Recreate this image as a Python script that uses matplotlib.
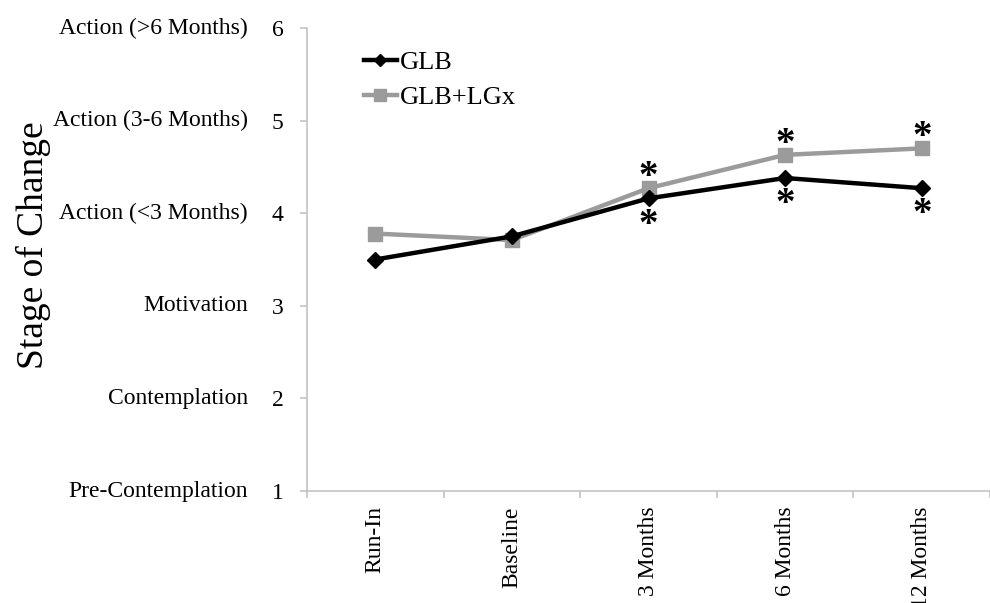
import numpy as np
import matplotlib.pyplot as plt
import matplotlib.transforms as mtransforms

# stage of change over time, two groups
timepoints = ['Run-In', 'Baseline', '3 Months', '6 Months', '12 Months']
glb = [3.50, 3.75, 4.16, 4.38, 4.27]
glb_lgx = [3.78, 3.71, 4.27, 4.63, 4.70]
glb_sig = [False, False, True, True, True]       # asterisk below GLB point
glb_lgx_sig = [False, False, True, True, True]   # asterisk above GLB+LGx point

stage_values = [1, 2, 3, 4, 5, 6]
stage_names = ['Pre-Contemplation', 'Contemplation', 'Motivation',
               'Action (<3 Months)', 'Action (3-6 Months)', 'Action (>6 Months)']

plt.rcParams['font.family'] = ['Liberation Serif', 'DejaVu Serif']

fig = plt.figure(figsize=(9.9, 6.03), dpi=100)
ax = fig.add_axes([307/990, 112/603, 683/990, 463/603])

x = np.arange(len(timepoints))
ax.plot(x, glb, color='black', lw=3.2, marker='D', ms=8, label='GLB', zorder=3)
ax.plot(x, glb_lgx, color='#9b9b9b', lw=3.2, marker='s', ms=10, label='GLB+LGx', zorder=2)

# significance asterisks
for i in x:
    if glb_lgx_sig[i]:
        ax.annotate('*', (i, glb_lgx[i]), xytext=(0, -5.5), textcoords='offset points',
                    ha='center', va='bottom', fontsize=28, fontweight='bold')
    if glb_sig[i]:
        ax.annotate('*', (i, glb[i]), xytext=(0, -32.5), textcoords='offset points',
                    ha='center', va='bottom', fontsize=28, fontweight='bold')

ax.set_ylim(1, 6)
ax.set_xlim(-0.5, 4.41)
ax.set_yticks(stage_values)
ax.set_yticklabels([str(v) for v in stage_values], fontsize=17)
ax.set_xticks(x)
ax.set_xticklabels(timepoints, rotation=90, fontsize=17)
ax.set_xticks(np.arange(-0.5, 5, 1), minor=True)
ax.tick_params(axis='x', which='major', length=0, pad=11)
ax.tick_params(axis='x', which='minor', length=5, color='#bfbfbf', width=1.1)
ax.tick_params(axis='y', length=5, color='#bfbfbf', width=1.1, pad=12)

# stage names left of the numbers
trans = mtransforms.blended_transform_factory(ax.transAxes, ax.transData)
for v, name in zip(stage_values, stage_names):
    ax.text(-0.0864, v, name, transform=trans, ha='right', va='center', fontsize=17)

ax.set_ylabel('Stage of Change', fontsize=27)
ax.yaxis.set_label_coords(-0.375, 0.531)

for s in ['top', 'right']:
    ax.spines[s].set_visible(False)
for s in ['left', 'bottom']:
    ax.spines[s].set_color('#bfbfbf')
    ax.spines[s].set_linewidth(1.1)

ax.legend(loc='upper left', bbox_to_anchor=(0.064, 0.98), frameon=False,
          fontsize=19, handlelength=1.25, handletextpad=0.1, borderpad=0,
          labelspacing=0.45, markerscale=0.8)

fig.savefig('out.png', dpi=100)
